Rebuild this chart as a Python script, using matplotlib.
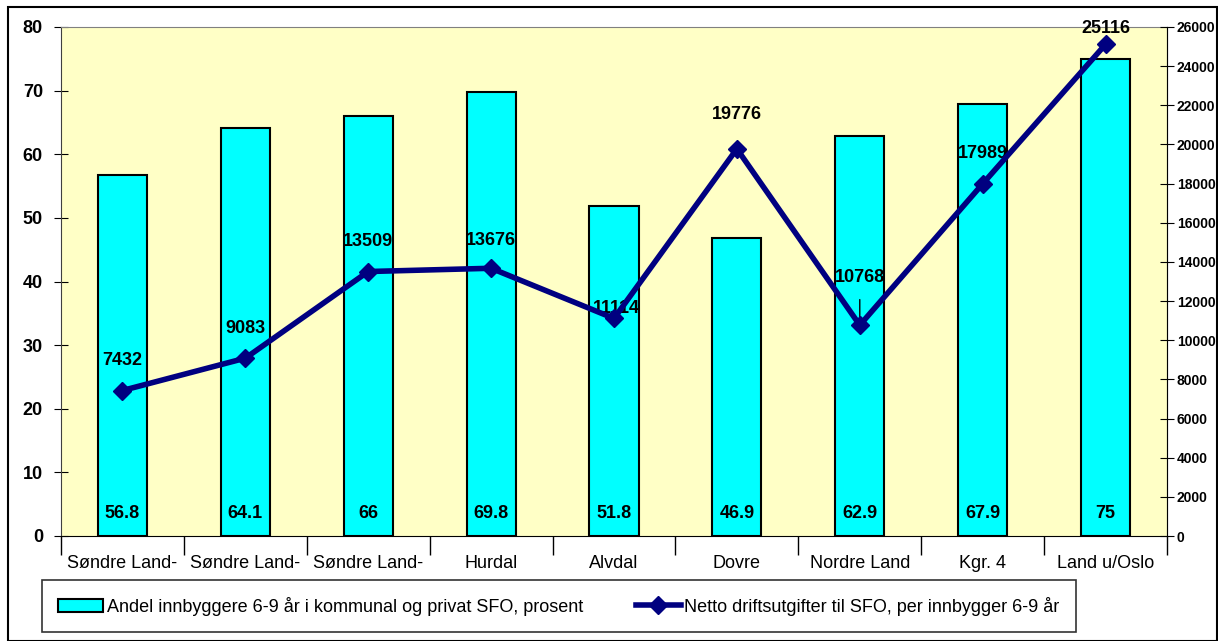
import matplotlib
matplotlib.use("Agg")
import matplotlib.pyplot as plt
from matplotlib.patches import Rectangle
import numpy as np

plt.rcParams['font.family'] = ['Liberation Sans Narrow', 'Liberation Sans', 'DejaVu Sans']

categories = ['Søndre Land-', 'Søndre Land-', 'Søndre Land-', 'Hurdal', 'Alvdal',
              'Dovre', 'Nordre Land', 'Kgr. 4', 'Land u/Oslo']
andel = [56.8, 64.1, 66, 69.8, 51.8, 46.9, 62.9, 67.9, 75]
utgifter = [7432, 9083, 13509, 13676, 11114, 19776, 10768, 17989, 25116]
bar_name = 'Andel innbyggere 6-9 år i kommunal og privat SFO, prosent'
line_name = 'Netto driftsutgifter til SFO, per innbygger 6-9 år'

# pixel offsets of the line labels (x, y)
lbl_off = [(0, 30), (0, 30), (0, 30), (0, 28), (2, 10), (0, 34), (0, 48), (0, 30), (0, 16)]

fig = plt.figure(figsize=(12.18, 6.41), dpi=100)
fig.patches.append(Rectangle((8/1218, 0), 1209/1218, 1 - 7/641, transform=fig.transFigure,
                             fill=False, edgecolor='black', linewidth=1.5))

ax = fig.add_axes([61/1218, 1 - 536/641, (1167 - 61)/1218, (536 - 27)/641])
ax.set_facecolor('#FFFFC6')
x = np.arange(len(categories))
ax.bar(x, andel, width=0.4, color='#00FFFF', edgecolor='black', linewidth=1.5,
       label=bar_name, zorder=2)
ax.set_xlim(-0.5, len(categories) - 0.5)
ax.set_ylim(0, 80)
ax.set_yticks(range(0, 81, 10))
ax.set_yticklabels([str(v) for v in range(0, 81, 10)], fontweight='bold')
ax.set_xticks(x)
ax.set_xticklabels(categories, fontsize=13)
ax.tick_params(axis='x', length=0, pad=14)
ax.set_xticks(np.arange(-0.5, len(categories), 1), minor=True)
ax.tick_params(axis='x', which='minor', length=14, direction='out', width=1)
ax.tick_params(axis='y', direction='inout', length=10, labelsize=13, pad=8)
for s in ['top', 'right']:
    ax.spines[s].set_color('#808080')
ax.spines['left'].set_color('#404040')

for xi, v in zip(x, andel):
    ax.annotate('{:g}'.format(v), (xi, 0), xytext=(0, 22), textcoords='offset pixels',
                ha='center', va='center', fontsize=13, fontweight='bold', zorder=3)

ax2 = ax.twinx()
ax2.set_ylim(0, 26000)
ax2.set_yticks(range(0, 26001, 2000))
ax2.set_yticklabels([str(v) for v in range(0, 26001, 2000)], fontweight='bold')
ax2.tick_params(axis='y', direction='inout', length=10, labelsize=10, pad=2)
for s in ['top', 'left', 'bottom']:
    ax2.spines[s].set_visible(False)
ax2.plot(x, utgifter, color='#000080', linewidth=4, marker='D', markersize=9,
         label=line_name, zorder=4)
for i, (xi, v) in enumerate(zip(x, utgifter)):
    dx, dy = lbl_off[i]
    arrow = None
    if i == 6:
        # leader line for the label that sits far from its point
        arrow = dict(arrowstyle='-', color='black', lw=1, shrinkA=8, shrinkB=4)
    ax2.annotate(str(v), (xi, v), xytext=(dx, dy), textcoords='offset pixels',
                 ha='center', va='center', fontsize=13, fontweight='bold',
                 arrowprops=arrow)

h1, l1 = ax.get_legend_handles_labels()
h2, l2 = ax2.get_legend_handles_labels()
leg = fig.legend(h1 + h2, l1 + l2, ncol=2, loc='center',
                 bbox_to_anchor=(42/1218, 1 - 633/641, (1076 - 42)/1218, (633 - 579)/641),
                 mode='expand', fontsize=13, frameon=True, fancybox=False,
                 edgecolor='black', handlelength=2.5, handletextpad=0.2, borderaxespad=0,
                 borderpad=0.9)
leg.get_frame().set_linewidth(1.2)

fig.savefig('out.png', dpi=100)
